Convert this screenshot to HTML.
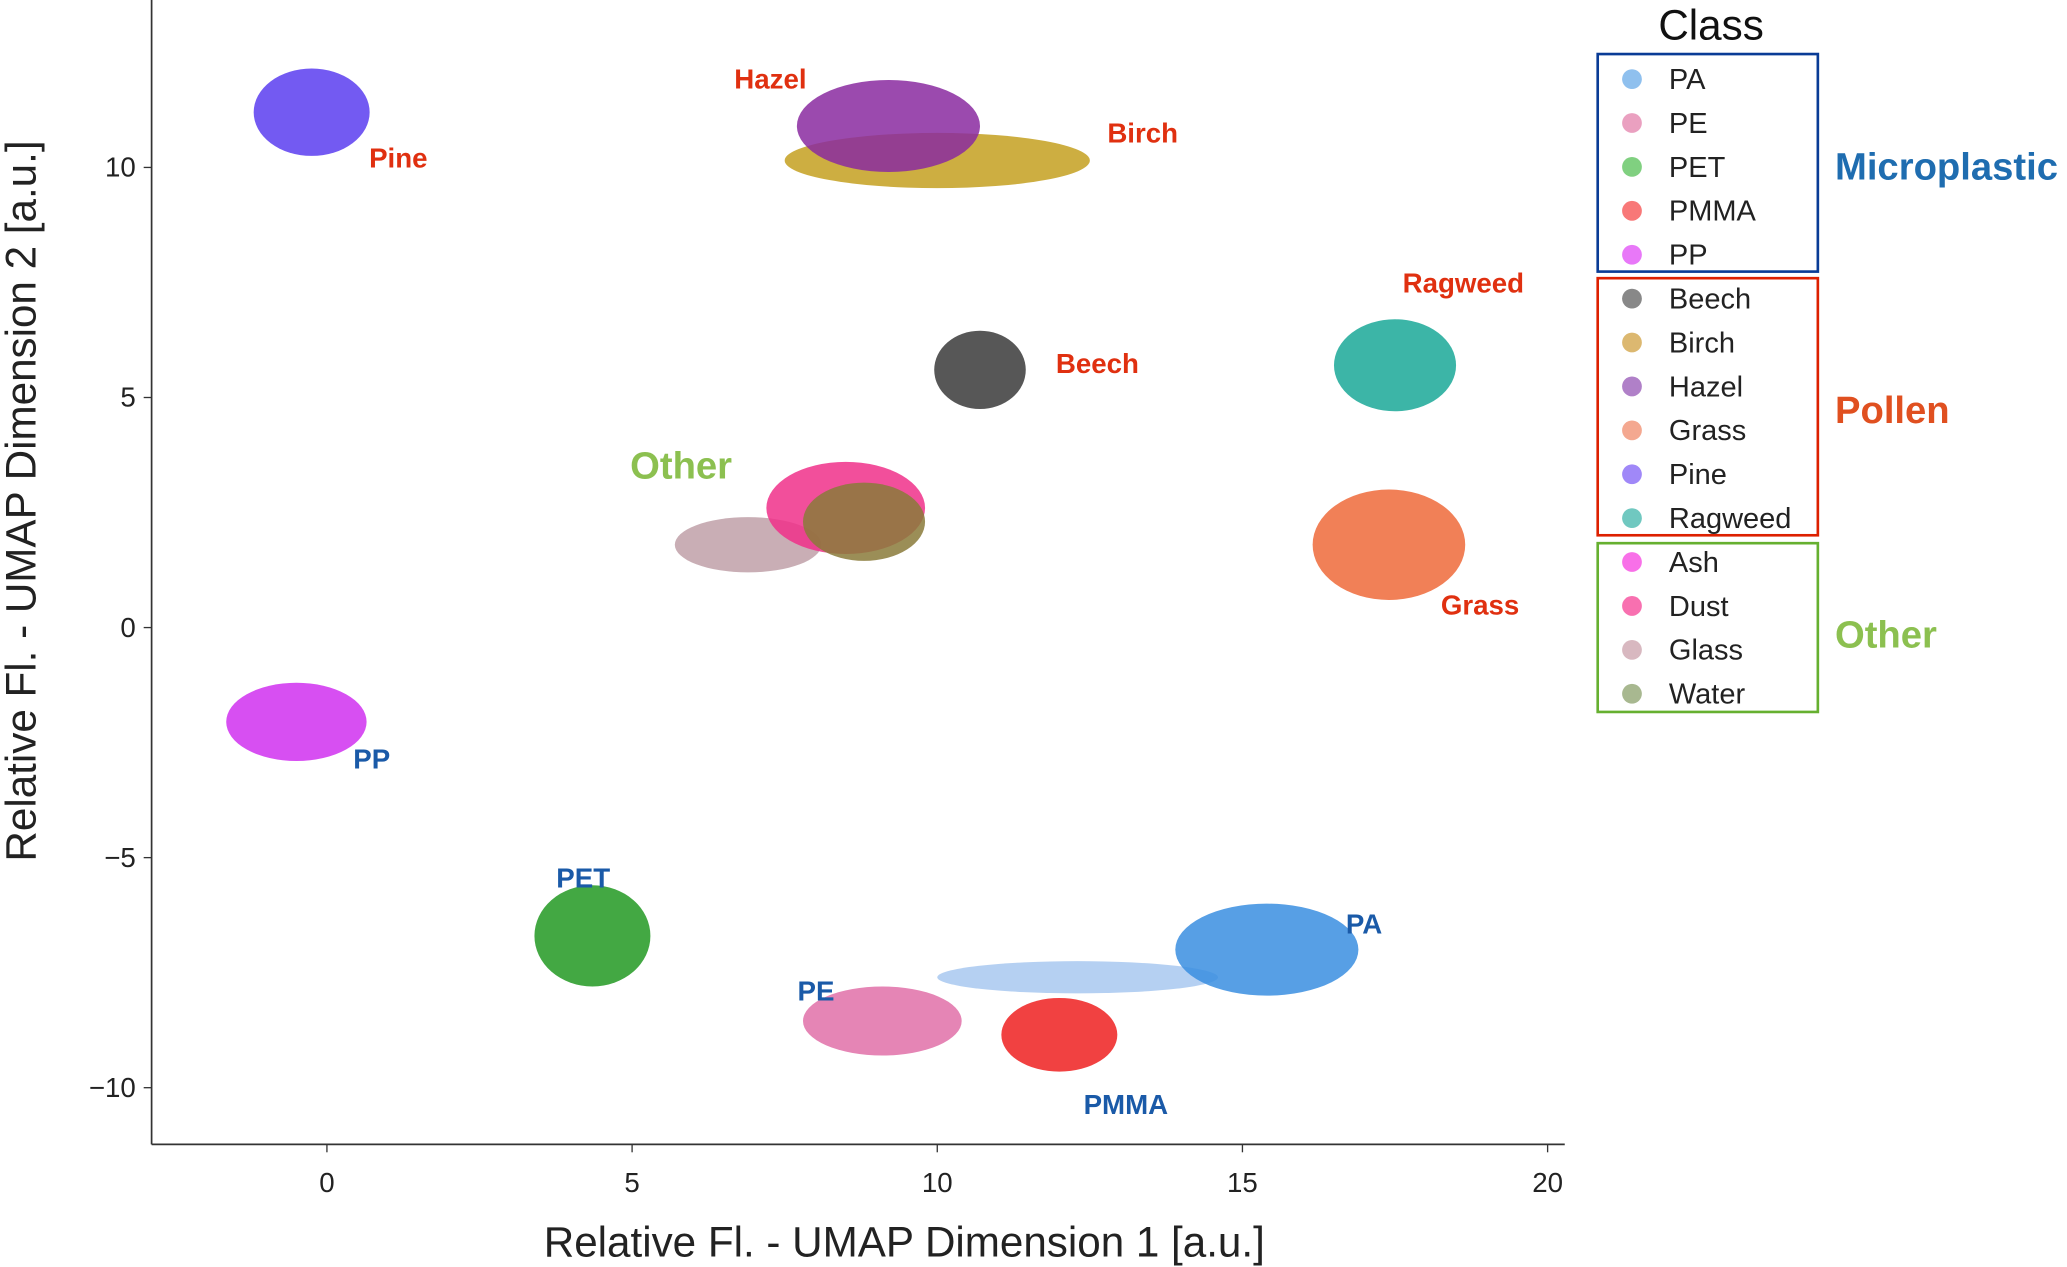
<!DOCTYPE html>
<html><head><meta charset="utf-8"><style>
html,body{margin:0;padding:0;background:#fff;}
svg{display:block;}
text{font-family:"Liberation Sans",sans-serif;}
</style></head><body>
<svg id="chart" width="2067" height="1267" viewBox="0 0 1568 961" preserveAspectRatio="none" xmlns="http://www.w3.org/2000/svg">
<g id="clusters"></g>
<g id="axes"></g>
<g id="labels"></g>
<g id="legend"></g>
</svg>
<script>
const clusterNames = ["Pine","Birch","Hazel","Beech","Glass","Dust","Water","Ragweed","Grass","PP","PET","PE","PMMA","PA-bridge","PA"];
const clusterX = [-0.25,10.0,9.2,10.7,6.9,8.5,8.8,17.5,17.4,-0.5,4.35,9.1,12.0,12.3,15.4];
const clusterY = [11.2,10.15,10.9,5.6,1.8,2.6,2.3,5.7,1.8,-2.05,-6.7,-8.55,-8.85,-7.6,-7.0];
const clusterRX = [0.95,2.5,1.5,0.75,1.2,1.3,1.0,1.0,1.25,1.15,0.95,1.3,0.95,2.3,1.5];
const clusterRY = [0.95,0.6,1.0,0.85,0.6,1.0,0.85,1.0,1.2,0.85,1.1,0.75,0.8,0.35,1.0];
const clusterColors = ["#5a3df0","#c4a020","#8a2aa0","#3a3a3a","#c0a0a8","#f0308a","#8a7a3a","#1aa898","#ee6a3a","#d030f0","#229922","#e070a8","#ee2020","#a8c8f0","#3a8ee0"];
const xTicks = [0,5,10,15,20];
const yTicks = [10,5,0,-5,-10];
const legendItems = ["PA","PE","PET","PMMA","PP","Beech","Birch","Hazel","Grass","Pine","Ragweed","Ash","Dust","Glass","Water"];
const legendColors = ["#8fc0ee","#eaa0c0","#80d080","#f87878","#e878f8","#888888","#dcb870","#b080c8","#f4a890","#a088f8","#70c8c0","#f870e8","#f870b0","#d8b8c0","#a8b890"];

const NS="http://www.w3.org/2000/svg";
const sx=v=>248+v*46.3, sy=v=>476-v*34.9;
function mk(tag,attrs,parent,txt){const e=document.createElementNS(NS,tag);for(const k in attrs)e.setAttribute(k,attrs[k]);if(txt!==undefined)e.textContent=txt;parent.appendChild(e);return e;}

const cg=document.getElementById('clusters');
clusterNames.forEach((n,i)=>{
  const e=mk('ellipse',{cx:sx(clusterX[i]),cy:sy(clusterY[i]),rx:clusterRX[i]*46.3,ry:clusterRY[i]*34.9,fill:clusterColors[i],'fill-opacity':0.85},cg);
  
  
});

const ax=document.getElementById('axes');
let l=mk('line',{x1:115,y1:0,x2:115,y2:868,stroke:'#333','stroke-width':1.3},ax);


l=mk('line',{x1:115,y1:868,x2:1187,y2:868,stroke:'#333','stroke-width':1.3},ax);


xTicks.forEach(v=>{
  mk('line',{x1:sx(v),y1:868,x2:sx(v),y2:874,stroke:'#333'},ax);
  const t=mk('text',{x:sx(v),y:904,'text-anchor':'middle','font-size':21,fill:'#222'},ax,String(v));
  
  
});
yTicks.forEach(v=>{
  mk('line',{x1:109,y1:sy(v),x2:115,y2:sy(v),stroke:'#333'},ax);
  const t=mk('text',{x:103,y:sy(v)+7,'text-anchor':'end','font-size':21,fill:'#222'},ax,v<0?'\u2212'+(-v):String(v));
  
  
});
let t=mk('text',{x:686,y:953,'text-anchor':'middle','font-size':32,fill:'#222'},ax,'Relative Fl. - UMAP Dimension 1 [a.u.]');


t=mk('text',{x:0,y:0,'text-anchor':'middle','font-size':32,fill:'#222',transform:'translate(27,380) rotate(-90)'},ax,'Relative Fl. - UMAP Dimension 2 [a.u.]');



const lg=document.getElementById('labels');
const lbls=[["Pine",280,127,"#e03010",21],["Hazel",557,67,"#e03010",21],["Birch",840,108,"#e03010",21],["Beech",801,283,"#e03010",21],["Ragweed",1064,222,"#e03010",21],["Grass",1093,466,"#e03010",21],["Other",478,363,"#8cc050",29],["PP",268,583,"#1a5aa8",21],["PET",422,673,"#1a5aa8",21],["PE",605,759,"#1a5aa8",21],["PMMA",822,845,"#1a5aa8",21],["PA",1021,708,"#1a5aa8",21]];
lbls.forEach(a=>{
  const e=mk('text',{x:a[1],y:a[2],'font-size':a[4],'font-weight':'bold',fill:a[3]},lg,a[0]);
  
  
});

const leg=document.getElementById('legend');
t=mk('text',{x:1298,y:30,'text-anchor':'middle','font-size':32,fill:'#111'},leg,'Class');


[[41,206,'#0a3c96'],[211,406,'#dd2000'],[412,540,'#66b030']].forEach((b,i)=>{
  const r=mk('rect',{x:1212,y:b[0],width:167,height:b[1]-b[0],fill:'none',stroke:b[2],'stroke-width':2},leg);
  
  
});
legendItems.forEach((n,i)=>{
  const y=60+i*33.3;
  const c=mk('circle',{cx:1238,cy:y,r:7.5,fill:legendColors[i]},leg);
  
  
  const e=mk('text',{x:1266,y:y+7.5,'font-size':22,fill:'#222'},leg,n);
  
  
});
[["Microplastic",136,"#1f6db0"],["Pollen",321,"#e05020"],["Other",491,"#8cc050"]].forEach(g=>{
  const e=mk('text',{x:1392,y:g[1],'font-size':29,'font-weight':'bold',fill:g[2]},leg,g[0]);
  
  
});
</script>
</body></html>
